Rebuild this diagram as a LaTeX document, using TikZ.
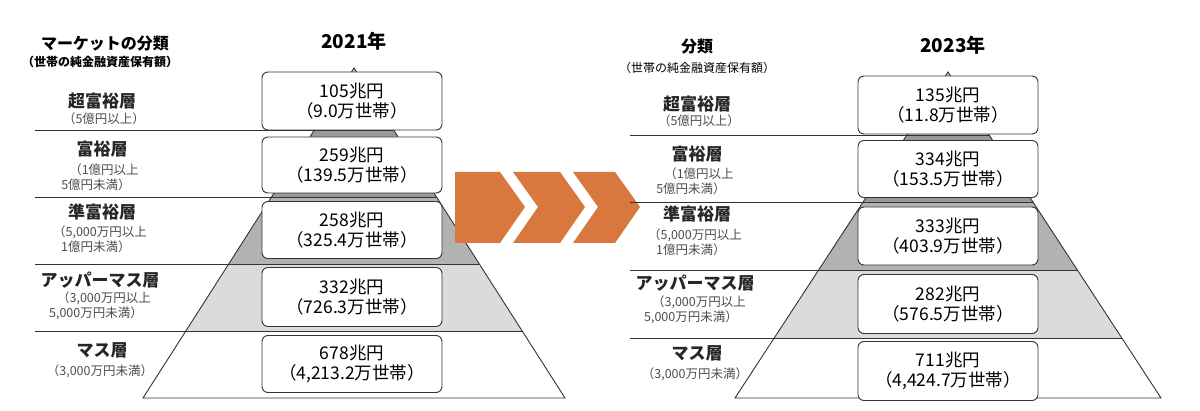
\documentclass[tikz,border=0pt]{standalone}
\usepackage{fontspec}
\setmainfont{Noto Sans CJK JP}
\begin{document}
\begin{tikzpicture}[x=1pt,y=-1pt,
  tier/.style={font=\bfseries\fontsize{17}{19}\selectfont,text=black!85},
  sub/.style={font=\fontsize{12.5}{15}\selectfont,text=black!70,align=left},
  valbox/.style={draw=black!80,line width=0.9pt,rounded corners=6pt,fill=white,minimum width=180pt,align=center,font=\fontsize{17.5}{20}\selectfont,inner sep=0pt},
  hd/.style={font=\bfseries\fontsize{16}{18}\selectfont},
  sepl/.style={draw=black!80,line width=0.9pt},
  chev/.style={fill={rgb,255:red,216;green,120;blue,62}}]
\useasboundingbox (0,0) rectangle (1200,411);
% ---------- left pyramid ----------
\begin{scope}
\clip (354,68) -- (565,398) -- (143,398) -- cycle;
\fill[black!22] (100,60) rectangle (600,130);
\fill[black!40] (100,130) rectangle (600,197);
\fill[black!30] (100,197) rectangle (600,264);
\fill[black!14] (100,264) rectangle (600,331);
\end{scope}
\draw[sepl] (354,68) -- (565,398) -- (143,398) -- cycle;
\draw[sepl] (35,130) -- (393.6,130);
\draw[sepl] (35,197) -- (436.5,197);
\draw[sepl] (35,264) -- (479.3,264);
\draw[sepl] (35,331) -- (522.2,331);
\node[hd] (t1) at (105,44) {マーケットの分類};
\node[font=\bfseries\fontsize{12}{14}\selectfont] (t1s) at (100,62) {（世帯の純金融資産保有額）};
\node[hd,font=\bfseries\fontsize{19}{21}\selectfont] (y1) at (354,41) {2021年};
\node[tier] (a1) at (102,101) {超富裕層};
\node[sub] (a1s) at (104,119) {（5億円以上）};
\node[tier] (a2) at (102,149) {富裕層};
\node[sub] (a2s) at (100,177) {\hspace*{8pt}（1億円以上\\5億円未満）};
\node[tier] (a3) at (102,212) {準富裕層};
\node[sub] (a3s) at (100,239) {（5,000万円以上\\\hspace*{8pt}1億円未満）};
\node[tier] (a4) at (100,280) {アッパーマス層};
\node[sub] (a4s) at (100,306) {\hspace*{8pt}（3,000万円以上\\5,000万円未満）};
\node[tier] (a5) at (102,350) {マス層};
\node[sub] (a5s) at (100,371) {（3,000万円未満）};
\node[valbox,minimum height=58pt] (b1) at (352,101) {105兆円\\（9.0万世帯）};
\node[valbox,minimum height=56pt] (b2) at (352,165) {259兆円\\（139.5万世帯）};
\node[valbox,minimum height=57pt] (b3) at (352,230) {258兆円\\（325.4万世帯）};
\node[valbox,minimum height=59pt] (b4) at (352,297) {332兆円\\（726.3万世帯）};
\node[valbox,minimum height=57pt] (b5) at (352,364) {678兆円\\（4,213.2万世帯）};
% ---------- chevrons ----------
\fill[chev] (455,172) -- (500,172) -- (525,207) -- (500,243) -- (455,243) -- cycle;
\fill[chev] (513,172) -- (560,172) -- (585,207) -- (560,243) -- (513,243) -- (538,207) -- cycle;
\fill[chev] (573,172) -- (615,172) -- (640,207) -- (615,243) -- (573,243) -- (598,207) -- cycle;
% ---------- right pyramid ----------
\begin{scope}
\clip (948,72) -- (1161,398) -- (735,398) -- cycle;
\fill[black!22] (700,60) rectangle (1200,135);
\fill[black!40] (700,135) rectangle (1200,202);
\fill[black!30] (700,202) rectangle (1200,270);
\fill[black!14] (700,270) rectangle (1200,338);
\end{scope}
\draw[sepl] (948,72) -- (1161,398) -- (735,398) -- cycle;
\draw[sepl] (630,135) -- (989,135);
\draw[sepl] (630,202) -- (1033,202);
\draw[sepl] (630,270) -- (1077,270);
\draw[sepl] (630,338) -- (1122,338);
\node[hd] (t2) at (697,47) {分類};
\node[font=\fontsize{12}{14}\selectfont] (t2s) at (697,68) {（世帯の純金融資産保有額）};
\node[hd,font=\bfseries\fontsize{19}{21}\selectfont] (y2) at (953,45) {2023年};
\node[tier] (c1) at (697,104) {超富裕層};
\node[sub] (c1s) at (699,121) {（5億円以上）};
\node[tier] (c2) at (697,154) {富裕層};
\node[sub] (c2s) at (695,181) {\hspace*{8pt}（1億円以上\\5億円未満）};
\node[tier] (c3) at (697,214) {準富裕層};
\node[sub] (c3s) at (695,242) {（5,000万円以上\\\hspace*{8pt}1億円未満）};
\node[tier] (c4) at (695,283) {アッパーマス層};
\node[sub] (c4s) at (695,310) {\hspace*{8pt}（3,000万円以上\\5,000万円未満）};
\node[tier] (c5) at (697,353) {マス層};
\node[sub] (c5s) at (695,374) {（3,000万円未満）};
\node[valbox,minimum height=58pt] (d1) at (948,105) {135兆円\\（11.8万世帯）};
\node[valbox,minimum height=57pt] (d2) at (948,169) {334兆円\\（153.5万世帯）};
\node[valbox,minimum height=58pt] (d3) at (948,236) {333兆円\\（403.9万世帯）};
\node[valbox,minimum height=59pt] (d4) at (948,304) {282兆円\\（576.5万世帯）};
\node[valbox,minimum height=59pt] (d5) at (948,371) {711兆円\\（4,424.7万世帯）};
\end{tikzpicture}
\end{document}
